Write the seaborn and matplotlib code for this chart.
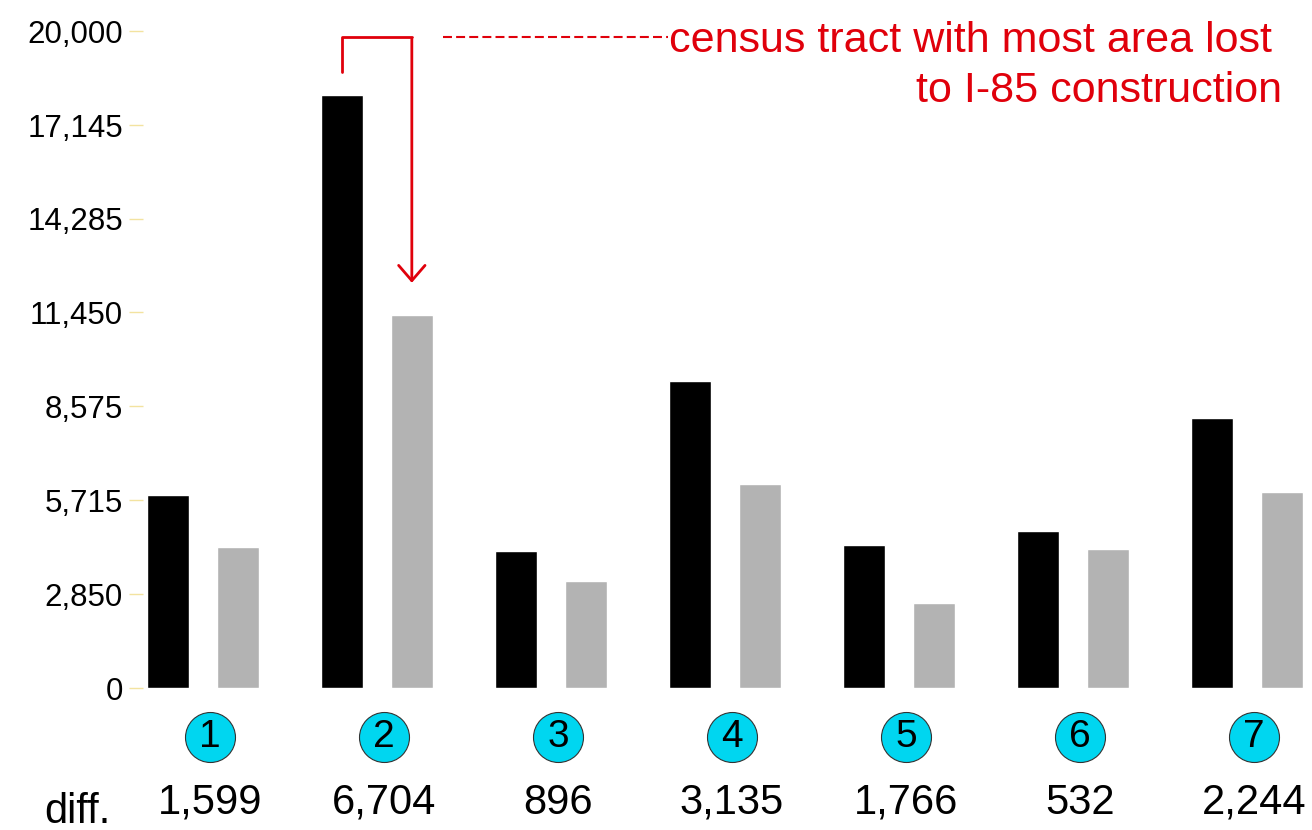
import pandas as pd
import numpy as np
import seaborn as sns
import matplotlib.pyplot as plt


# values
tracts = ['1', '2', '3', '4', '5', '6', '7']
before = [5890, 18060, 4160, 9360, 4360, 4770, 8220]
after = [4291, 11356, 3264, 6225, 2594, 4238, 5976]
diffs = [1599, 6704, 896, 3135, 1766, 532, 2244]
yticks = [0, 2850, 5715, 8575, 11450, 14285, 17145, 20000]

data = pd.DataFrame({
    'tract': tracts * 2,
    'period': ['before'] * len(tracts) + ['after'] * len(tracts),
    'value': before + after,
})

sns.set_style('white')
plt.rcParams['font.family'] = ['Liberation Sans', 'DejaVu Sans']
plt.rcParams['text.color'] = 'black'

fig = plt.figure(figsize=(13.12, 8.30), dpi=100)
ax = fig.add_axes([143 / 1312, 1 - 688 / 830, 1167 / 1312, 656.7 / 830])

sns.barplot(data=data, x='tract', y='value', hue='period',
            palette={'before': 'black', 'after': '#b3b3b3'},
            width=0.805, gap=0.4, saturation=1, legend=False, ax=ax)

ax.set_xlim(-0.345, 6.362)
ax.set_ylim(0, 20000)
ax.set_yticks(yticks)
ax.set_yticklabels([f'{t:,}' for t in yticks])
ax.tick_params(axis='y', left=True, length=10, width=1, color='#f3e3a0',
               labelcolor='black', pad=4.5, labelsize=22.5)
ax.tick_params(axis='x', length=0, labelbottom=False)
ax.set_xlabel('')
ax.set_ylabel('')
sns.despine(ax=ax, left=True, bottom=True)

# circled tract numbers and differences under each pair
xs = np.arange(len(tracts)) + 0.04
ax.scatter(xs, [-1500] * len(xs), s=1296, color='#00d6f0', edgecolor='#333333',
           linewidth=0.8, clip_on=False, zorder=3)
for x, t, d in zip(xs, tracts, diffs):
    ax.text(x, -1500, t, ha='center', va='center', fontsize=28, zorder=4, clip_on=False)
    ax.text(x, -3500, f'{d:,}', ha='center', va='center', fontsize=30, clip_on=False)
ax.text(-0.534, -3780, 'diff.', ha='right', va='center', fontsize=30, clip_on=False)

# annotation for tract 2
red = '#e0000b'
top = 19823
ax.plot([0.8, 0.8, 1.2], [before[1] + 700, top, top], color=red, lw=2, clip_on=False)
ax.annotate('', xy=(1.2, after[1] + 900), xytext=(1.2, top + 25),
            arrowprops=dict(arrowstyle='->,head_length=1.1,head_width=0.95', color=red, lw=2),
            annotation_clip=False)
ax.plot([1.379, 2.672], [top, top], color=red, lw=1.5, ls=(0, (4.3, 2.0)), clip_on=False)
fig.text(1272 / 1312, 1 - 52 / 830, 'census tract with most area lost',
         ha='right', va='baseline', fontsize=31, color=red)
fig.text(1282 / 1312, 1 - 102 / 830, 'to I-85 construction',
         ha='right', va='baseline', fontsize=31, color=red)

fig.savefig('out.png', dpi=100)
